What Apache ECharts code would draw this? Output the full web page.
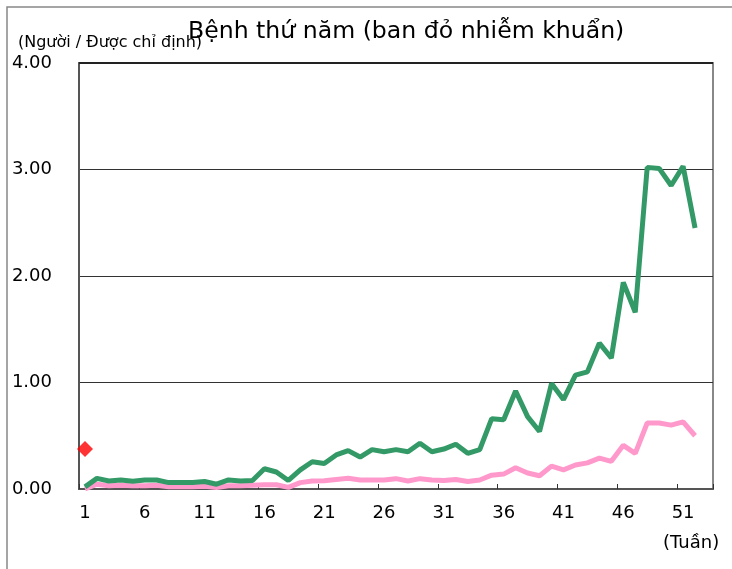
<!DOCTYPE html>
<html>
<head>
<meta charset="utf-8">
<script src="https://cdn.jsdelivr.net/npm/echarts@6/dist/echarts.min.js"></script>
<style>html,body{margin:0;padding:0;background:#fff;}#c{width:732px;height:569px;}</style>
</head>
<body>
<div id="c"></div>
<script>
const weeks = [];
for (let w = 1; w <= 53; w++) weeks.push(String(w));

const currentYear = [0.02,0.10,0.075,0.085,0.072,0.085,0.085,0.06,0.06,0.06,
  0.07,0.045,0.085,0.075,0.08,0.19,0.16,0.08,0.18,0.256,
  0.24,0.32,0.36,0.30,0.37,0.35,0.37,0.35,0.43,0.35,
  0.375,0.42,0.335,0.37,0.66,0.65,0.92,0.68,0.54,0.99,
  0.84,1.07,1.10,1.37,1.23,1.94,1.66,3.02,3.01,2.85,
  3.03,2.45];

const averageYear = [0.0,0.045,0.03,0.035,0.03,0.03,0.035,0.02,0.02,0.02,
  0.025,0.015,0.03,0.03,0.035,0.04,0.04,0.015,0.06,0.075,
  0.077,0.09,0.10,0.085,0.085,0.085,0.097,0.075,0.097,0.085,
  0.08,0.09,0.07,0.085,0.13,0.14,0.20,0.15,0.125,0.215,
  0.18,0.225,0.245,0.29,0.26,0.41,0.335,0.62,0.62,0.60,
  0.63,0.50];

const markerPoint = [0.375]; // week 1 marker
const yTicks = [0, 1, 2, 3, 4];

const chart = echarts.init(document.getElementById('c'), null, {renderer: 'canvas'});
const font = '"DejaVu Sans", sans-serif';

chart.setOption({
  animation: false,
  backgroundColor: '#fff',
  grid: {left: 79, right: 19, top: 63, bottom: 80, show: true, borderColor: '#888', borderWidth: 2},
  graphic: [
    {type: 'rect', shape: {x: 7, y: 7, width: 800, height: 700}, style: {fill: 'none', stroke: '#888', lineWidth: 1.5}, z: -1},
    {type: 'line', shape: {x1: 79, y1: 63, x2: 713, y2: 63}, style: {stroke: '#222', lineWidth: 2}, z: 10},
    {type: 'text', left: 188, top: 20, style: {text: 'Bệnh thứ năm (ban đỏ nhiễm khuẩn)', font: '23.6px ' + font, fill: '#000'}},
    {type: 'text', left: 18, top: 35, style: {text: '(Người / Được chỉ định)', font: '16px ' + font, fill: '#000'}},
    {type: 'text', left: 663, top: 534, style: {text: '(Tuần)', font: '18px ' + font, fill: '#000'}}
  ],
  xAxis: {
    type: 'category',
    data: weeks,
    boundaryGap: true,
    axisLine: {lineStyle: {color: '#555', width: 2}},
    axisTick: {show: true, inside: true, length: 5, interval: 4, lineStyle: {color: '#333'}},
    axisLabel: {interval: 4, fontSize: 18, color: '#000', fontFamily: font, margin: 15},
    splitLine: {show: false}
  },
  yAxis: {
    type: 'value',
    min: yTicks[0], max: yTicks[yTicks.length - 1], interval: 1,
    axisLine: {show: true, lineStyle: {color: '#555', width: 2}},
    axisTick: {show: false},
    axisLabel: {fontSize: 18, color: '#000', fontFamily: font, margin: 27, formatter: v => v.toFixed(2)},
    splitLine: {show: true, lineStyle: {color: '#333', width: 1}}
  },
  series: [
    {type: 'line', data: averageYear, symbol: 'none', lineStyle: {color: '#ff99cc', width: 5}, z: 3},
    {type: 'line', data: currentYear, symbol: 'none', lineStyle: {color: '#339966', width: 5}, z: 4},
    {type: 'scatter', data: markerPoint, symbol: 'diamond', symbolSize: 16, itemStyle: {color: '#ff0000'}, z: 5}
  ]
});
</script>
</body>
</html>
